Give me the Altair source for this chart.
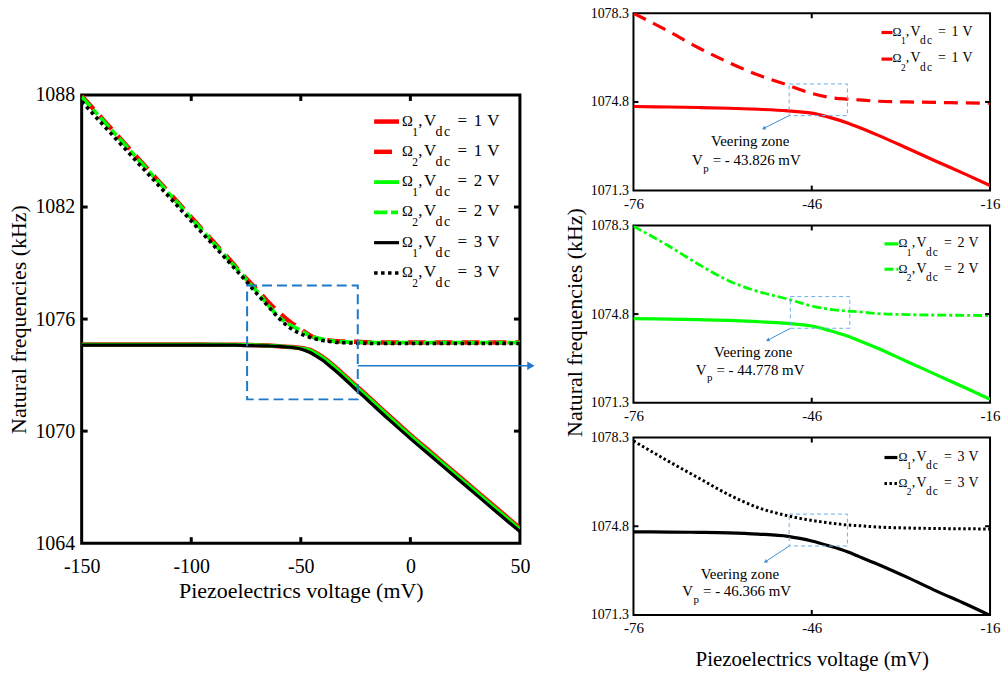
import altair as alt
import pandas as pd

# ---------------- data ----------------
X = [-150, -140, -130, -120, -110, -100, -90, -80, -76, -70, -65, -60, -55, -50, -48, -46,
     -43, -40, -38, -35, -30, -25, -20, -16, -10, 0, 10, 20, 30, 40, 50]

# Omega_1 / Omega_2 for Vdc = 1 V (red)
R1 = [1074.64, 1074.64, 1074.64, 1074.64, 1074.64, 1074.64, 1074.63, 1074.63, 1074.62, 1074.60,
      1074.58, 1074.55, 1074.51, 1074.45, 1074.41, 1074.36, 1074.19, 1073.97, 1073.79, 1073.50,
      1072.98, 1072.45, 1071.93, 1071.50, 1070.85, 1069.80, 1068.80, 1067.80, 1066.80, 1065.80,
      1064.80]
R2 = [1087.95, 1086.65, 1085.35, 1084.05, 1082.75, 1081.45, 1080.15, 1078.85, 1078.30, 1077.58,
      1076.93, 1076.36, 1075.86, 1075.46, 1075.29, 1075.14, 1074.98, 1074.91, 1074.88, 1074.83,
      1074.80, 1074.78, 1074.76, 1074.75, 1074.75, 1074.75, 1074.75, 1074.75, 1074.75, 1074.75,
      1074.75]
# Vdc = 2 V (green)
G1 = [1074.63, 1074.63, 1074.63, 1074.63, 1074.63, 1074.63, 1074.63, 1074.62, 1074.62, 1074.60,
      1074.58, 1074.55, 1074.50, 1074.43, 1074.39, 1074.33, 1074.15, 1073.93, 1073.75, 1073.46,
      1072.93, 1072.40, 1071.87, 1071.44, 1070.79, 1069.74, 1068.74, 1067.74, 1066.74, 1065.74,
      1064.74]
G2 = [1087.90, 1086.60, 1085.30, 1084.00, 1082.70, 1081.40, 1080.10, 1078.80, 1078.27, 1077.48,
      1076.76, 1076.12, 1075.69, 1075.39, 1075.25, 1075.12, 1074.99, 1074.92, 1074.89, 1074.82,
      1074.78, 1074.76, 1074.75, 1074.74, 1074.74, 1074.74, 1074.74, 1074.74, 1074.74, 1074.74,
      1074.74]
# Vdc = 3 V (black)
K1 = [1074.60, 1074.60, 1074.60, 1074.60, 1074.60, 1074.60, 1074.60, 1074.60, 1074.58, 1074.57,
      1074.56, 1074.54, 1074.49, 1074.40, 1074.32, 1074.22, 1074.02, 1073.79, 1073.60, 1073.31,
      1072.79, 1072.24, 1071.72, 1071.28, 1070.64, 1069.60, 1068.60, 1067.60, 1066.60, 1065.60,
      1064.62]
K2 = [1087.65, 1086.37, 1085.09, 1083.81, 1082.53, 1081.25, 1079.97, 1078.69, 1078.17, 1077.35,
      1076.70, 1076.05, 1075.53, 1075.21, 1075.11, 1075.03, 1074.93, 1074.85, 1074.82, 1074.77,
      1074.73, 1074.71, 1074.70, 1074.69, 1074.69, 1074.69, 1074.69, 1074.69, 1074.69, 1074.69,
      1074.69]

SERIES = {"R1": R1, "R2": R2, "G1": G1, "G2": G2, "K1": K1, "K2": K2}
LEG_OMEGA = {"R1": 1, "R2": 2, "G1": 1, "G2": 2, "K1": 1, "K2": 2}
LEG_VDC = {"R1": 1, "R2": 1, "G1": 2, "G2": 2, "K1": 3, "K2": 3}

MAIN_XDOM = [-150, 50]
MAIN_YDOM = [1064, 1088]
MAIN_XTICKS = [-150, -100, -50, 0, 50]
MAIN_YTICKS = [1064, 1070, 1076, 1082, 1088]
MAIN_BOX = {"x": [-74.5], "x2": [-24.0], "f": [1071.7], "f2": [1077.8]}
MAIN_ARROW = {"x": [-24.0], "x2": [55.0], "f": [1073.5]}

PANEL_XDOM = [-76, -16]
PANEL_YDOM = [1071.3, 1078.3]
PANEL_XTICKS = [-76, -46, -16]
PANEL_YTICKS = [1071.3, 1074.8, 1078.3]
VEERING_VP = ["43.826", "44.778", "46.366"]
PANEL_BOXES = [
    {"x": [-49.8], "x2": [-40.0], "f": [1074.26], "f2": [1075.51]},
    {"x": [-49.6], "x2": [-39.6], "f": [1074.24], "f2": [1075.49]},
    {"x": [-49.8], "x2": [-40.0], "f": [1074.02], "f2": [1075.28]},
]

XTITLE = "Piezoelectrics voltage (mV)"
YTITLE = "Natural frequencies (kHz)"

# ---------------- styles / layout ----------------
FONT = "Liberation Serif"
COL = {"R": "#ff0000", "G": "#00ff00", "K": "#000000"}
MAIN_STYLE = {
    "R1": dict(strokeWidth=4.5),
    "R2": dict(strokeWidth=4.5, strokeDash=[18, 9]),
    "G1": dict(strokeWidth=3.8),
    "G2": dict(strokeWidth=3.8, strokeDash=[13, 4, 7, 4]),
    "K1": dict(strokeWidth=3.2),
    "K2": dict(strokeWidth=3.6, strokeDash=[3.5, 3.5]),
}
PANEL_STYLE = {
    "R1": dict(strokeWidth=3.2),
    "R2": dict(strokeWidth=3.2, strokeDash=[14, 8]),
    "G1": dict(strokeWidth=3.2),
    "G2": dict(strokeWidth=2.8, strokeDash=[9, 3, 3, 3]),
    "K1": dict(strokeWidth=3.2),
    "K2": dict(strokeWidth=3.0, strokeDash=[2.5, 2.5]),
}
# legend pieces: text, kind (o omega, i index subscript, s subscript, m normal), x offset px @17px
PIECES = [("\u03a9", "o", 0.0), ("#O", "i", 10.3), (",", "m", 16.2), ("V", "m", 22.0),
          ("d", "s", 33.6), ("c", "s", 42.0), ("=", "m", 55.6), ("#V", "m", 72.0),
          ("V", "m", 85.5)]
KIND_SIZE = {"o": 0.86, "i": 11.5 / 17, "s": 14 / 17, "m": 1.0}

MW, MH = 440, 450
PW, PH = 358, 178


def series_df(key, lo, hi):
    rows = [(x, v) for x, v in zip(X, SERIES[key]) if lo <= x <= hi]
    return pd.DataFrame(rows, columns=["x", "f"])


def to_data(px, py, xdom, ydom, W, H):
    return (xdom[0] + px / W * (xdom[1] - xdom[0]),
            ydom[1] - py / H * (ydom[1] - ydom[0]))


def make_axes(xdom, ydom, xticks, yticks, xfs, yfs, xpad, ypad, xtitle, ytitle, tfs, xtpad, ytpad,
              title_y=None):
    xa = dict(values=xticks, ticks=False, domain=False, grid=False, labelFont=FONT,
              labelFontSize=xfs, labelColor="black", labelPadding=xpad, labelFlush=False,
              labelOverlap=False, labelExpr="'' + datum.value")
    ya = dict(values=yticks, ticks=False, domain=False, grid=False, labelFont=FONT,
              labelFontSize=yfs, labelColor="black", labelPadding=ypad, labelFlush=False,
              labelOverlap=False, labelExpr="'' + datum.value")
    if xtitle:
        xa.update(title=xtitle, titleFont=FONT, titleFontSize=tfs, titleFontWeight="normal",
                  titleColor="black", titlePadding=xtpad)
    else:
        xa.update(title=None)
    if ytitle:
        ya.update(title=ytitle, titleFont=FONT, titleFontSize=tfs, titleFontWeight="normal",
                  titleColor="black", titlePadding=ytpad)
        if title_y is not None:
            ya.update(titleY=title_y)
    else:
        ya.update(title=None)
    X_ = alt.X("x:Q", scale=alt.Scale(domain=xdom, nice=False, zero=False), axis=alt.Axis(**xa))
    Y_ = alt.Y("f:Q", scale=alt.Scale(domain=ydom, nice=False, zero=False), axis=alt.Axis(**ya))
    return X_, Y_


def tick_layers(Xe, Ye, xt, yt, W, H, L, w):
    lay = []
    dx = pd.DataFrame({"x": xt})
    dy = pd.DataFrame({"f": yt})
    lay.append(alt.Chart(dx).mark_rule(color="black", strokeWidth=w).encode(
        x=Xe, y=alt.value(H), y2=alt.value(H - L)))
    lay.append(alt.Chart(dx).mark_rule(color="black", strokeWidth=w).encode(
        x=Xe, y=alt.value(0), y2=alt.value(L)))
    lay.append(alt.Chart(dy).mark_rule(color="black", strokeWidth=w).encode(
        y=Ye, x=alt.value(0), x2=alt.value(L)))
    lay.append(alt.Chart(dy).mark_rule(color="black", strokeWidth=w).encode(
        y=Ye, x=alt.value(W), x2=alt.value(W - L)))
    return lay


def legend_layers(Xe, Ye, keys, styles, xdom, ydom, W, H, sx0, sx1, tx, rows_y, base_dy,
                  fs, sshift):
    lay = []
    pieces = []
    scale = fs / 17.0
    for key, ly in zip(keys, rows_y):
        a, b = to_data(sx0, ly, xdom, ydom, W, H)
        c, _ = to_data(sx1, ly, xdom, ydom, W, H)
        st = dict(styles[key])
        lay.append(alt.Chart(pd.DataFrame({"x": [a], "x2": [c], "f": [b]})).mark_rule(
            color=COL[key[0]], strokeCap="butt", **st).encode(x=Xe, x2=alt.X2("x2:Q"), y=Ye))
        for t, kind, off in PIECES:
            if t == "#O":
                t = str(LEG_OMEGA[key])
            elif t == "#V":
                t = str(LEG_VDC[key])
            px = tx + off * scale
            py = ly + base_dy + (sshift if kind in ("s", "i") else 0)
            xx, ff = to_data(px, py, xdom, ydom, W, H)
            pieces.append({"x": xx, "f": ff, "t": t, "kind": kind})
    pdf = pd.DataFrame(pieces)
    for kind, rel in KIND_SIZE.items():
        lay.append(alt.Chart(pdf[pdf["kind"] == kind]).mark_text(
            align="left", baseline="alphabetic", font=FONT, fontSize=fs * rel, color="black").encode(
            x=Xe, y=Ye, text="t:N"))
    return lay


# ---------------- main chart ----------------
Xm, Ym = make_axes(MAIN_XDOM, MAIN_YDOM, MAIN_XTICKS, MAIN_YTICKS, 20, 20, 13, 7,
                   XTITLE, YTITLE, 22, 5, 4)
main_layers = []
for key in ["R1", "R2", "G1", "G2", "K1", "K2"]:
    main_layers.append(alt.Chart(series_df(key, -150, 50)).mark_line(
        color=COL[key[0]], clip=True, strokeCap="butt", interpolate="monotone",
        **MAIN_STYLE[key]).encode(x=Xm, y=Ym))
main_layers += tick_layers(Xm, Ym, [-100, -50, 0], [1070, 1076, 1082], MW, MH, 6, 3)
main_layers.append(alt.Chart(pd.DataFrame(MAIN_BOX)).mark_rect(
    filled=False, stroke="#1f78c8", strokeWidth=2, strokeDash=[10, 5]).encode(
    x=Xm, x2=alt.X2("x2:Q"), y=Ym, y2=alt.Y2("f2:Q")))
main_layers.append(alt.Chart(pd.DataFrame(MAIN_ARROW)).mark_rule(
    color="#1f78c8", strokeWidth=1.6).encode(x=Xm, x2=alt.X2("x2:Q"), y=Ym))
main_layers.append(alt.Chart(pd.DataFrame({"x": MAIN_ARROW["x2"], "f": MAIN_ARROW["f"]})).mark_point(
    shape="triangle-right", filled=True, size=70, color="#1f78c8", opacity=1).encode(x=Xm, y=Ym))
main_layers += legend_layers(
    Xm, Ym, ["R1", "R2", "G1", "G2", "K1", "K2"], MAIN_STYLE, MAIN_XDOM, MAIN_YDOM, MW, MH,
    293.6, 318.6, 321.7, [26.7 + 30.4 * k for k in range(6)], 4.0, 17, 10)
main = alt.layer(*main_layers).properties(
    width=MW, height=MH, view=alt.ViewBackground(stroke="black", strokeWidth=3))

SPACER_H = 82
spacer = alt.Chart(pd.DataFrame({"a": [0]})).mark_rect(color="white", opacity=1).encode(
    x=alt.value(0), x2=alt.value(MW), y=alt.value(0), y2=alt.value(SPACER_H)).properties(
    width=MW, height=SPACER_H)

# ---------------- zoom panels ----------------
PANEL_KEYS = [("R1", "R2"), ("G1", "G2"), ("K1", "K2")]
PANEL_LEG = [
    dict(sx0=249, sx1=260, tx=260, rows=[19.3, 46.0]),
    dict(sx0=252, sx1=266, tx=266, rows=[18.5, 44.0]),
    dict(sx0=252, sx1=265, tx=266, rows=[20.0, 46.0]),
]
PANEL_ANN = [
    dict(vz=(117.2, 133.3), vp=(58.7, 152.7), tip=(131.3, 115.3), ang=244),
    dict(vz=(120.2, 131.6), vp=(62.5, 150.0), tip=(135.3, 115.0), ang=244),
    dict(vz=(106.8, 142.0), vp=(49.0, 159.3), tip=(133.0, 124.3), ang=237),
]
panels = []
for i in range(3):
    Xp, Yp = make_axes(PANEL_XDOM, PANEL_YDOM, PANEL_XTICKS, PANEL_YTICKS, 15, 14, 6, 5,
                       XTITLE if i == 2 else None, YTITLE if i == 1 else None, 22 if i == 1 else 21,
                       13, 4, title_y=97)
    lay = []
    for key in PANEL_KEYS[i]:
        lay.append(alt.Chart(series_df(key, -76, -16)).mark_line(
            color=COL[key[0]], clip=True, strokeCap="butt", interpolate="monotone",
            **PANEL_STYLE[key]).encode(x=Xp, y=Yp))
    lay += tick_layers(Xp, Yp, [-46], [1074.8], PW, PH, 5, 2)
    box = PANEL_BOXES[i]
    lay.append(alt.Chart(pd.DataFrame(box)).mark_rect(
        filled=False, stroke="#6aaee6", strokeWidth=1, strokeDash=[4, 3]).encode(
        x=Xp, x2=alt.X2("x2:Q"), y=Yp, y2=alt.Y2("f2:Q")))
    ann = PANEL_ANN[i]
    tx, tf = to_data(ann["tip"][0], ann["tip"][1], PANEL_XDOM, PANEL_YDOM, PW, PH)
    lay.append(alt.Chart(pd.DataFrame({"x": box["x"], "f": box["f"], "x2": [tx], "f2": [tf]})).mark_rule(
        color="#3d8fd6", strokeWidth=1).encode(x=Xp, y=Yp, x2=alt.X2("x2:Q"), y2=alt.Y2("f2:Q")))
    lay.append(alt.Chart(pd.DataFrame({"x": [tx], "f": [tf]})).mark_point(
        shape="triangle", filled=True, size=18, angle=ann["ang"], color="#3d8fd6", opacity=1).encode(
        x=Xp, y=Yp))
    vzx, vzf = to_data(ann["vz"][0], ann["vz"][1], PANEL_XDOM, PANEL_YDOM, PW, PH)
    lay.append(alt.Chart(pd.DataFrame({"x": [vzx], "f": [vzf], "t": ["Veering zone"]})).mark_text(
        align="center", baseline="alphabetic", font=FONT, fontSize=15, color="black").encode(
        x=Xp, y=Yp, text="t:N"))
    vx0, vy0 = ann["vp"]
    main_p = []
    for dxp, t in [(0.0, "V"), (20.8, "= - " + VEERING_VP[i] + " mV")]:
        a, b = to_data(vx0 + dxp, vy0, PANEL_XDOM, PANEL_YDOM, PW, PH)
        main_p.append({"x": a, "f": b, "t": t})
    lay.append(alt.Chart(pd.DataFrame(main_p)).mark_text(
        align="left", baseline="alphabetic", font=FONT, fontSize=15, color="black").encode(
        x=Xp, y=Yp, text="t:N"))
    a, b = to_data(vx0 + 11.3, vy0 + 6.5, PANEL_XDOM, PANEL_YDOM, PW, PH)
    lay.append(alt.Chart(pd.DataFrame({"x": [a], "f": [b], "t": ["p"]})).mark_text(
        align="left", baseline="alphabetic", font=FONT, fontSize=11, color="black").encode(
        x=Xp, y=Yp, text="t:N"))
    lg = PANEL_LEG[i]
    lay += legend_layers(Xp, Yp, list(PANEL_KEYS[i]), PANEL_STYLE, PANEL_XDOM, PANEL_YDOM, PW, PH,
                         lg["sx0"], lg["sx1"], lg["tx"], lg["rows"], 3.4, 14, 8.3)
    panels.append(alt.layer(*lay).properties(
        width=PW, height=PH, view=alt.ViewBackground(stroke="black", strokeWidth=2)))

left = alt.vconcat(spacer, main, spacing=0, bounds="flush")
right = alt.vconcat(*panels, spacing=35, bounds="flush")
chart = alt.hconcat(left, right, spacing=25).properties(
    padding={"left": 6, "top": 4, "right": 0, "bottom": 0}
).configure(font=FONT).configure_view(stroke=None)

chart.save("out.html", embed_options={"renderer": "svg", "actions": False})
